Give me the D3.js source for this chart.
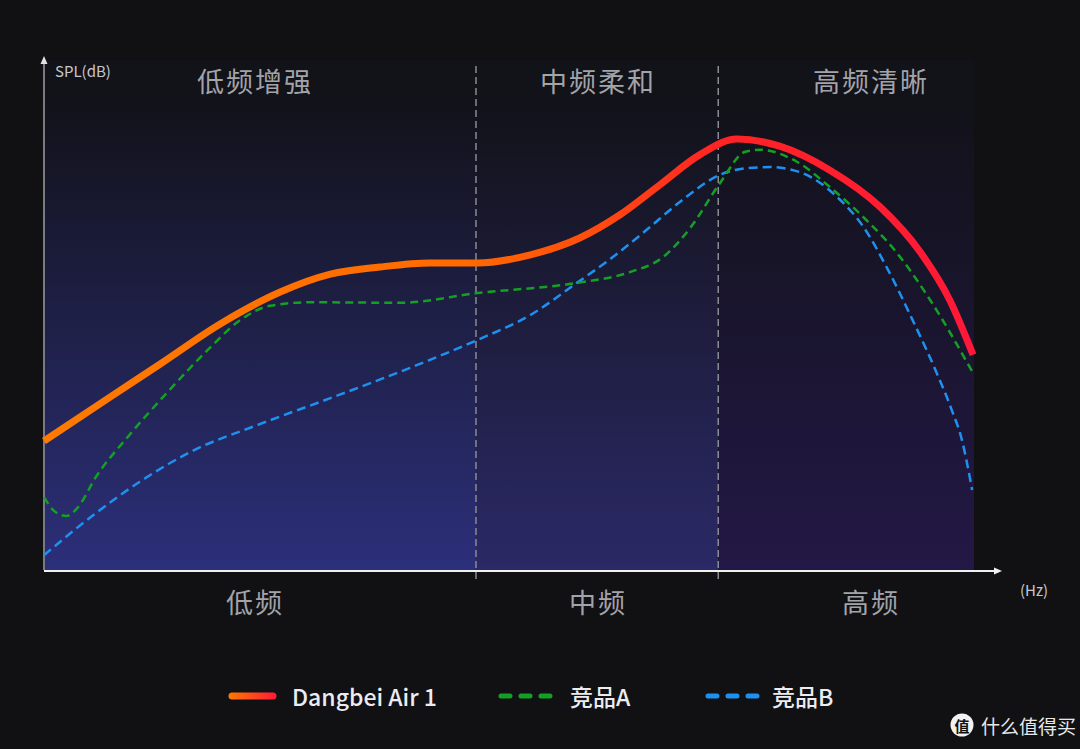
<!DOCTYPE html>
<html><head><meta charset="utf-8">
<script src="https://cdn.jsdelivr.net/npm/d3@7"></script>
<style>
html,body{margin:0;padding:0;background:#111114;}
svg{display:block;}
</style></head>
<body>
<svg id="chart" width="1080" height="749"></svg>
<script>
// ---- data (x: relative frequency position 0-100, y: relative SPL 0-100) ----
const seriesNames = ["Dangbei Air 1", "竞品A", "竞品B"];
const dangbeiX = [0,7.1,12.5,18.9,25.4,30.8,36.1,41.5,46.6,52.3,57.6,61.9,66.2,70.5,74.5,79.1,84.5,89.9,94.2,97.4,99.9];
const dangbeiY = [25.3,33.9,40.4,48.2,54.5,58.0,59.4,60.2,60.2,61.8,65.1,69.6,75.5,81.4,84.5,83.1,78.4,71.2,62.4,52.9,42.2];
const compAX = [0,1.2,2.4,3.7,5.5,9.2,13.5,17.8,21.1,24.3,28.6,38.3,46.6,57.3,63.0,66.6,69.5,72.7,75.4,77.0,81.0,84.5,88.1,91.7,95.3,99.9];
const compAY = [14.3,11.4,10.6,12.4,18.0,26.5,35.3,43.5,49.0,51.8,52.5,52.4,54.3,56.3,58.4,61.4,67.1,75.9,82.0,82.4,80.0,75.1,69.2,62.2,52.9,38.6];
const compBX = [0,4.9,10.3,15.7,23.2,30.8,41.5,46.6,52.3,57.3,61.2,64.8,68.4,72.7,75.6,78.1,81.3,85.3,88.1,90.6,93.4,96.0,97.6,98.7,99.8];
const compBY = [2.9,10.2,17.3,23.1,28.6,33.7,41.2,45.1,50.0,56.3,61.4,66.7,72.2,77.5,78.8,79.0,78.0,73.1,67.3,59.4,49.0,38.6,31.4,25.5,15.7];
const bandNames = ["低频", "中频", "高频"];
const bandTitles = ["低频增强", "中频柔和", "高频清晰"];
const bandEdges = [0, 46.45, 72.5, 100];
const yLabel = "SPL(dB)";
const xLabel = "(Hz)";

// ---- layout ----
const svg = d3.select("#chart");
const L = 44, R = 974, T = 60, B = 570;
const x = d3.scaleLinear().domain([0,100]).range([L,R]);
const y = d3.scaleLinear().domain([0,100]).range([B,T]);

const defs = svg.append("defs");
const bandColors = ["#2c2f7a", "#2b2966", "#231846"];
bandColors.forEach((c,i)=>{
  const g = defs.append("linearGradient").attr("id","bg"+i).attr("x1",0).attr("y1",0).attr("x2",0).attr("y2",1);
  g.append("stop").attr("offset","0").attr("stop-color","#121219");
  g.append("stop").attr("offset","0.08").attr("stop-color","#121219");
  g.append("stop").attr("offset","1").attr("stop-color",c);
});
const lg = defs.append("linearGradient").attr("id","mainGrad").attr("gradientUnits","userSpaceOnUse")
  .attr("x1",L).attr("y1",0).attr("x2",R).attr("y2",0);
[[0,"#ff7a00"],[0.45,"#ff6a00"],[0.6,"#ff4a10"],[0.72,"#ff2424"],[1,"#ff1838"]].forEach(s=>
  lg.append("stop").attr("offset",s[0]).attr("stop-color",s[1]));
const lg2 = defs.append("linearGradient").attr("id","legGrad").attr("gradientUnits","userSpaceOnUse")
  .attr("x1",228).attr("y1",0).attr("x2",277).attr("y2",0);
lg2.append("stop").attr("offset",0).attr("stop-color","#ff7a00");
lg2.append("stop").attr("offset",1).attr("stop-color","#ff1838");

// band backgrounds
svg.append("g").selectAll("rect").data(bandColors).join("rect")
  .attr("x",(d,i)=>x(bandEdges[i])).attr("width",(d,i)=>x(bandEdges[i+1])-x(bandEdges[i]))
  .attr("y",T).attr("height",B-T).attr("fill",(d,i)=>`url(#bg${i})`);

// dividers
svg.append("g").selectAll("line").data([bandEdges[1],bandEdges[2]]).join("line")
  .attr("x1",d=>x(d)).attr("x2",d=>x(d)).attr("y1",66).attr("y2",582)
  .attr("stroke","#8a8a94").attr("stroke-width",1.5).attr("stroke-dasharray","7,4");

// band titles
const cx = [255,598,871];
svg.append("g").selectAll("text").data(bandTitles).join("text")
  .attr("x",(d,i)=>cx[i]).attr("y",80).attr("dominant-baseline","central")
  .attr("text-anchor","middle").attr("fill","#a3a3aa")
  .style("font-family","'Noto Sans CJK SC'").style("font-size","27px").style("letter-spacing","2px").text(d=>d);
svg.append("g").selectAll("text").data(bandNames).join("text")
  .attr("x",(d,i)=>cx[i]).attr("y",601).attr("dominant-baseline","central")
  .attr("text-anchor","middle").attr("fill","#a3a3aa")
  .style("font-family","'Noto Sans CJK SC'").style("font-size","27px").style("letter-spacing","2px").text(d=>d);

// axes
svg.append("line").attr("x1",L).attr("x2",L).attr("y1",B).attr("y2",62).attr("stroke","#7a7a82").attr("stroke-width",2);
svg.append("path").attr("d",`M${L-3.5},64 L${L},56 L${L+3.5},64 Z`).attr("fill","#e0e0e0");
svg.append("line").attr("x1",L).attr("x2",996).attr("y1",B+1).attr("y2",B+1).attr("stroke","#f0f0f0").attr("stroke-width",2);
svg.append("path").attr("d",`M994,${B-2.5} L1002,${B+1} L994,${B+4.5} Z`).attr("fill","#f0f0f0");
svg.append("text").attr("x",55).attr("y",70).attr("dominant-baseline","central").attr("fill","#c8c8cc")
  .style("font-family","'Noto Sans CJK SC'").style("font-size","15px").text(yLabel);
svg.append("text").attr("x",1020).attr("y",589).attr("dominant-baseline","central").attr("fill","#c8c8cc")
  .style("font-family","'Noto Sans CJK SC'").style("font-size","15px").text(xLabel);

// curves
const line = d3.line().x(d=>x(d[0])).y(d=>y(d[1])).curve(d3.curveMonotoneX);
const zip = (a,b)=>a.map((v,i)=>[v,b[i]]);
svg.append("path").datum(zip(compBX,compBY)).attr("d",line).attr("fill","none")
  .attr("stroke","#1e90f0").attr("stroke-width",2.5).attr("stroke-dasharray","9,5");
svg.append("path").datum(zip(compAX,compAY)).attr("d",line).attr("fill","none")
  .attr("stroke","#14a024").attr("stroke-width",2.5).attr("stroke-dasharray","8,5");
svg.append("path").datum(zip(dangbeiX,dangbeiY)).attr("d",line).attr("fill","none")
  .attr("stroke","url(#mainGrad)").attr("stroke-width",7).attr("stroke-linecap","butt");

// legend
const lgY = 696;
svg.append("line").attr("x1",232).attr("x2",273).attr("y1",lgY).attr("y2",lgY)
  .attr("stroke","url(#legGrad)").attr("stroke-width",7).attr("stroke-linecap","round");
svg.append("line").attr("x1",501).attr("x2",551).attr("y1",lgY).attr("y2",lgY)
  .attr("stroke","#14a024").attr("stroke-width",5).attr("stroke-linecap","round").attr("stroke-dasharray","9,11");
svg.append("line").attr("x1",708).attr("x2",758).attr("y1",lgY).attr("y2",lgY)
  .attr("stroke","#1e90f0").attr("stroke-width",5).attr("stroke-linecap","round").attr("stroke-dasharray","9,11");
svg.append("g").selectAll("text").data(seriesNames).join("text")
  .attr("x",(d,i)=>[292,570,772][i]).attr("y",lgY).attr("dominant-baseline","central")
  .attr("fill","#ececf0").style("font-family","'Noto Sans CJK SC'").style("font-weight",500)
  .style("font-size","23px").text(d=>d);

// watermark
svg.append("circle").attr("cx",962).attr("cy",725).attr("r",11.5).attr("fill","#f2f2f2");
svg.append("text").attr("x",962).attr("y",725).attr("text-anchor","middle").attr("dominant-baseline","central")
  .attr("fill","#111").style("font-family","'Noto Sans CJK SC'").style("font-weight",700).style("font-size","15px").text("值");
svg.append("text").attr("x",981).attr("y",725).attr("dominant-baseline","central")
  .attr("fill","#e8e8e8").style("font-family","'Noto Sans CJK SC'").style("font-size","19px").text("什么值得买");
</script>
</body></html>
